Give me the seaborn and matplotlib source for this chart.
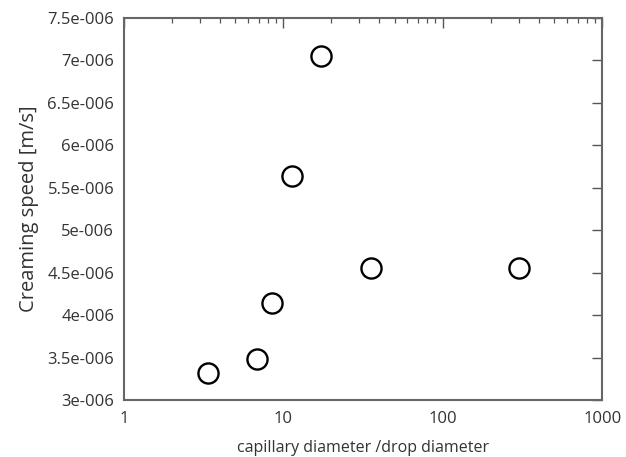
import matplotlib
matplotlib.use("Agg")
import matplotlib.pyplot as plt
import matplotlib.ticker as mticker
import seaborn as sns
import pandas as pd

# capillary diameter / drop diameter vs creaming speed
ratio = [3.35, 6.8, 8.45, 11.4, 17.2, 35.4, 300.0]
speed = [3.315e-6, 3.48e-6, 4.145e-6, 5.64e-6, 7.05e-6, 4.56e-6, 4.56e-6]

y_ticks = [3e-6, 3.5e-6, 4e-6, 4.5e-6, 5e-6, 5.5e-6, 6e-6, 6.5e-6, 7e-6, 7.5e-6]
y_tick_labels = ["3e-006", "3.5e-006", "4e-006", "4.5e-006", "5e-006",
                 "5.5e-006", "6e-006", "6.5e-006", "7e-006", "7.5e-006"]
x_ticks = [1, 10, 100, 1000]
x_tick_labels = ["1", "10", "100", "1000"]

df = pd.DataFrame({"ratio": ratio, "speed": speed})

sns.set_style("white")
plt.rcParams["font.family"] = ["Open Sans", "DejaVu Sans"]
text_col = "#333333"

fig = plt.figure(figsize=(6.26, 4.57), dpi=100)
ax = fig.add_axes([0.198, 0.1247, 0.764, 0.836])

sns.scatterplot(data=df, x="ratio", y="speed", ax=ax, s=210,
                facecolor="white", edgecolor="black", linewidth=1.7,
                legend=False, zorder=3)

ax.set_xscale("log")
ax.set_xlim(1, 1000)
ax.set_ylim(3e-6, 7.5e-6)
ax.set_xticks(x_ticks)
ax.set_xticklabels(x_tick_labels)
ax.xaxis.set_minor_locator(mticker.LogLocator(base=10, subs=range(2, 10)))
ax.xaxis.set_minor_formatter(mticker.NullFormatter())
ax.set_yticks(y_ticks)
ax.set_yticklabels(y_tick_labels)

ax.tick_params(axis="both", which="major", direction="in", length=7, width=1.0,
               color="#555555", labelsize=12, labelcolor=text_col,
               top=True, right=True)
ax.tick_params(axis="y", which="major", pad=7)
ax.tick_params(axis="x", which="major", pad=8)
ax.tick_params(axis="x", which="minor", direction="in", length=3.5, width=0.9,
               color="#555555", top=True)
for sp in ax.spines.values():
    sp.set_color("#666666")
    sp.set_linewidth(1.5)

ax.set_xlabel("capillary diameter /drop diameter", fontsize=11.5,
              color=text_col, labelpad=9)
ax.set_ylabel("Creaming speed [m/s]", fontsize=14.5, color=text_col, labelpad=6)

fig.savefig("out.png", dpi=100)
plt.close(fig)
